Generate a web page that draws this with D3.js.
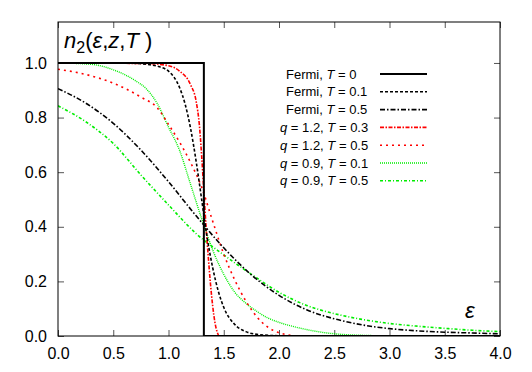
<!DOCTYPE html>
<html>
<head>
<meta charset="utf-8">
<script src="https://cdn.jsdelivr.net/npm/d3@7"></script>
<style>
  body { margin: 0; background: #fff; }
  text { font-family: "Liberation Sans", Arial, sans-serif; }
</style>
</head>
<body>
<svg class="chart"></svg>
<script>
WIDTH = 532;
HEIGHT = 372;
MARGIN = {top: 22, right: 32, bottom: 36, left: 58};

X_TICKS = [0, 0.5, 1, 1.5, 2, 2.5, 3, 3.5, 4];
Y_TICKS = [0, 0.2, 0.4, 0.6, 0.8, 1.0];

// values: [epsilon, n]
fermiT0 = [[0, 1], [1.32, 1], [1.32, 0], [4, 0]];
fermiT01 = [[0, 1], [0.6, 1], [0.8, 0.995], [0.9, 0.988], [1.0, 0.97], [1.1, 0.91], [1.15, 0.85],
    [1.2, 0.76], [1.25, 0.64], [1.3, 0.50], [1.35, 0.36], [1.4, 0.25], [1.45, 0.165], [1.5, 0.105],
    [1.6, 0.042], [1.7, 0.016], [1.8, 0.006], [2.0, 0.001], [2.5, 0], [4, 0]];
fermiT05 = [[0, 0.906], [0.25, 0.853], [0.5, 0.779], [0.75, 0.681], [1.0, 0.565], [1.25, 0.44],
    [1.5, 0.323], [1.75, 0.224], [2.0, 0.149], [2.25, 0.096], [2.5, 0.063], [2.75, 0.041],
    [3.0, 0.027], [3.25, 0.019], [3.5, 0.014], [3.75, 0.011], [4.0, 0.008]];
q12T03 = [[0, 1], [0.8, 0.998], [1.0, 0.99], [1.1, 0.97], [1.2, 0.92], [1.25, 0.86], [1.28, 0.77],
    [1.3, 0.66], [1.32, 0.53], [1.34, 0.40], [1.36, 0.29], [1.38, 0.19], [1.4, 0.11], [1.42, 0.05],
    [1.44, 0.015], [1.46, 0], [4, 0]];
q12T05 = [[0, 0.977], [0.25, 0.958], [0.5, 0.926], [0.75, 0.875], [0.9, 0.835], [1.0, 0.775],
    [1.1, 0.71], [1.2, 0.635], [1.3, 0.545], [1.4, 0.42], [1.5, 0.30], [1.6, 0.205], [1.7, 0.128],
    [1.8, 0.07], [1.9, 0.032], [2.0, 0.012], [2.1, 0.003], [2.2, 0], [4, 0]];
q09T01 = [[0, 1], [0.3, 0.995], [0.4, 0.988], [0.5, 0.975], [0.6, 0.958], [0.7, 0.935], [0.8, 0.905],
    [0.9, 0.85], [1.0, 0.765], [1.1, 0.68], [1.2, 0.555], [1.3, 0.43], [1.4, 0.315], [1.5, 0.226],
    [1.6, 0.16], [1.7, 0.12], [1.8, 0.09], [1.9, 0.066], [2.0, 0.05], [2.2, 0.028], [2.4, 0.013],
    [2.6, 0.005], [2.8, 0.002], [3.0, 0], [4, 0]];
q09T05 = [[0, 0.843], [0.25, 0.785], [0.5, 0.705], [0.75, 0.59], [1.0, 0.48], [1.25, 0.375],
    [1.5, 0.297], [1.75, 0.226], [2.0, 0.16], [2.25, 0.112], [2.5, 0.082], [2.75, 0.061],
    [3.0, 0.046], [3.25, 0.036], [3.5, 0.028], [3.75, 0.021], [4.0, 0.016]];

SERIES = [
    {label: ["Fermi, ", "T", " = 0"], q: false, data: fermiT0, color: "#000", width: 2, dash: null},
    {label: ["Fermi, ", "T", " = 0.1"], q: false, data: fermiT01, color: "#000", width: 1.6, dash: "3,2"},
    {label: ["Fermi, ", "T", " = 0.5"], q: false, data: fermiT05, color: "#000", width: 1.6, dash: "5,2,1.5,2"},
    {label: ["1.2, ", "T", " = 0.3"], q: true, data: q12T03, color: "#ff0000", width: 1.6, dash: "4,1.5,1.5,1.5"},
    {label: ["1.2, ", "T", " = 0.5"], q: true, data: q12T05, color: "#ff0000", width: 1.6, dash: "2,4"},
    {label: ["0.9, ", "T", " = 0.1"], q: true, data: q09T01, color: "#00ee00", width: 1.4, dash: "1,1"},
    {label: ["0.9, ", "T", " = 0.5"], q: true, data: q09T05, color: "#00ee00", width: 1.6, dash: "3,2,1,2"}
];

plotW = WIDTH - MARGIN.left - MARGIN.right;
plotH = HEIGHT - MARGIN.top - MARGIN.bottom;

svg = d3.select(".chart").attr("width", WIDTH).attr("height", HEIGHT);
g = svg.append("g").attr("transform", "translate(" + MARGIN.left + "," + MARGIN.top + ")");

x = d3.scaleLinear().domain([0, 4]).range([0, plotW]);
y = d3.scaleLinear().domain([0, 1.15]).range([plotH, 0]);

// ticks on all four sides, pointing inward
function styleAxis(sel) {
    sel.select(".domain").remove();
    sel.selectAll(".tick line").attr("stroke", "#555");
    sel.selectAll(".tick text").attr("font-size", 16).attr("fill", "#000")
        .attr("font-family", "Liberation Sans, Arial, sans-serif");
}
g.append("g").attr("transform", "translate(0," + plotH + ")")
    .call(d3.axisBottom(x).tickValues(X_TICKS).tickFormat(d3.format(".1f")).tickSizeInner(-6).tickPadding(12))
    .call(styleAxis);
g.append("g")
    .call(d3.axisTop(x).tickValues(X_TICKS).tickFormat("").tickSizeInner(-6))
    .call(styleAxis);
g.append("g")
    .call(d3.axisLeft(y).tickValues(Y_TICKS).tickFormat(d3.format(".1f")).tickSizeInner(-6).tickPadding(11))
    .call(styleAxis);
g.append("g").attr("transform", "translate(" + plotW + ",0)")
    .call(d3.axisRight(y).tickValues(Y_TICKS).tickFormat("").tickSizeInner(-6))
    .call(styleAxis);

clip = svg.append("clipPath").attr("id", "clip").append("rect")
    .attr("width", plotW).attr("height", plotH);

line = d3.line()
    .x(function(d) { return x(d[0]); })
    .y(function(d) { return y(d[1]); })
    .curve(d3.curveMonotoneX);
stepLine = d3.line()
    .x(function(d) { return x(d[0]); })
    .y(function(d) { return y(d[1]); });

curves = g.append("g").attr("clip-path", "url(#clip)");
SERIES.slice().reverse().forEach(function(s, i) {
    curves.append("path")
        .datum(s.data)
        .attr("fill", "none")
        .attr("stroke", s.color)
        .attr("stroke-width", s.width)
        .attr("stroke-dasharray", s.dash)
        .attr("d", s.data === fermiT0 ? stepLine : line);
});

g.append("rect")
    .attr("width", plotW).attr("height", plotH)
    .attr("fill", "none").attr("stroke", "#000").attr("stroke-width", 1);

// legend, texts start at a fixed x like the reference
legend = svg.append("g");
SERIES.forEach(function(s, i) {
    rowY = 74 + i * 17.8;
    t = legend.append("text")
        .attr("x", s.q ? 280 : 286).attr("y", rowY).attr("dy", "0.35em")
        .attr("font-size", 13);
    if (s.q) {
        t.append("tspan").attr("font-style", "italic").text("q");
        t.append("tspan").text(" = " + s.label[0]);
    } else {
        t.append("tspan").text(s.label[0]);
    }
    t.append("tspan").attr("font-style", "italic").text(s.label[1]);
    t.append("tspan").text(s.label[2]);
    legend.append("line")
        .attr("x1", 380).attr("x2", 427).attr("y1", rowY).attr("y2", rowY)
        .attr("stroke", s.color).attr("stroke-width", s.width)
        .attr("stroke-dasharray", s.dash);
});

// function label top-left
title = svg.append("text").attr("x", 64).attr("y", 48).attr("font-size", 22);
title.append("tspan").attr("font-style", "italic").text("n");
title.append("tspan").attr("font-size", 16).attr("dy", 5).text("2");
title.append("tspan").attr("dy", -5).text("(");
title.append("tspan").attr("font-style", "italic").text("ε");
title.append("tspan").text(",");
title.append("tspan").attr("font-style", "italic").text("z");
title.append("tspan").text(",");
title.append("tspan").attr("font-style", "italic").text("T");
title.append("tspan").text(" )");

svg.append("text")
    .attr("x", 465).attr("y", 318)
    .attr("font-size", 22).attr("font-style", "italic")
    .text("ε");
</script>
</body>
</html>
